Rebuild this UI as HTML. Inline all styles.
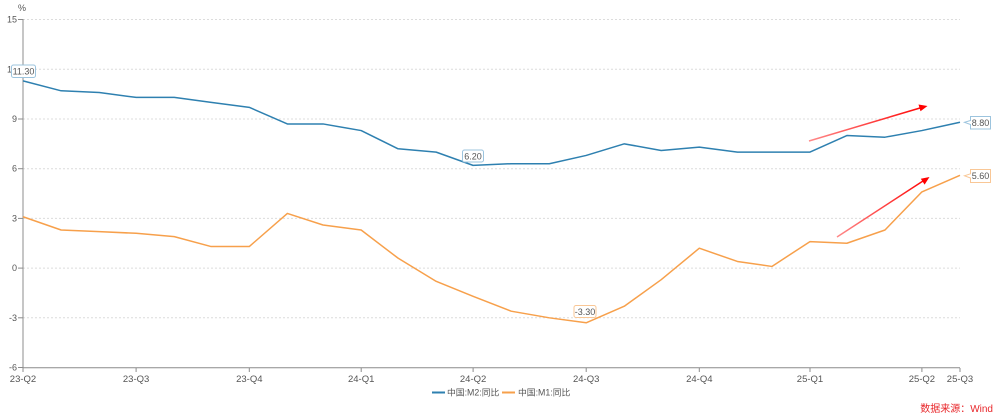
<!DOCTYPE html>
<html><head><meta charset="utf-8">
<style>
html,body{margin:0;padding:0;background:#fff;}
svg{display:block;}
text{font-family:"Liberation Sans","Noto Sans CJK SC",sans-serif;}
</style></head>
<body>
<svg width="1000" height="415" viewBox="0 0 1000 415" xmlns="http://www.w3.org/2000/svg">
<defs>
<linearGradient id="g1" gradientUnits="userSpaceOnUse" x1="809" y1="141" x2="927" y2="106">
<stop offset="0" stop-color="#ff8a8a"/><stop offset="1" stop-color="#ff0000"/>
</linearGradient>
<linearGradient id="g2" gradientUnits="userSpaceOnUse" x1="837" y1="237" x2="929" y2="177">
<stop offset="0" stop-color="#ff8a8a"/><stop offset="1" stop-color="#ff0000"/>
</linearGradient>
</defs>
<!-- grid -->
<g stroke="#dcdcdc" stroke-width="1" stroke-dasharray="2,2">
<line x1="23" y1="19.5" x2="960" y2="19.5"/>
<line x1="23" y1="69.3" x2="960" y2="69.3"/>
<line x1="23" y1="119.0" x2="960" y2="119.0"/>
<line x1="23" y1="168.7" x2="960" y2="168.7"/>
<line x1="23" y1="218.4" x2="960" y2="218.4"/>
<line x1="23" y1="268.1" x2="960" y2="268.1"/>
<line x1="23" y1="317.8" x2="960" y2="317.8"/>
</g>
<!-- axes -->
<line x1="23" y1="19" x2="23" y2="368" stroke="#8c8c8c" stroke-width="1"/>
<line x1="23" y1="367.8" x2="960" y2="367.8" stroke="#8c8c8c" stroke-width="1"/>
<g stroke="#8c8c8c" stroke-width="1">
<line x1="18" y1="19.5" x2="23" y2="19.5"/>
<line x1="18" y1="69.3" x2="23" y2="69.3"/>
<line x1="18" y1="119.0" x2="23" y2="119.0"/>
<line x1="18" y1="168.7" x2="23" y2="168.7"/>
<line x1="18" y1="218.4" x2="23" y2="218.4"/>
<line x1="18" y1="268.1" x2="23" y2="268.1"/>
<line x1="18" y1="317.8" x2="23" y2="317.8"/>
<line x1="18" y1="367.5" x2="23" y2="367.5"/>
<line x1="23" y1="368" x2="23" y2="372"/>
<line x1="136.1" y1="368" x2="136.1" y2="372"/>
<line x1="249.3" y1="368" x2="249.3" y2="372"/>
<line x1="361.2" y1="368" x2="361.2" y2="372"/>
<line x1="473.1" y1="368" x2="473.1" y2="372"/>
<line x1="586.2" y1="368" x2="586.2" y2="372"/>
<line x1="699.3" y1="368" x2="699.3" y2="372"/>
<line x1="810" y1="368" x2="810" y2="372"/>
<line x1="921.9" y1="368" x2="921.9" y2="372"/>
<line x1="960" y1="368" x2="960" y2="372"/>
</g>
<g font-size="9" fill="#555" text-anchor="end">
<text x="17" y="22.5">15</text>
<text x="17" y="72.3">12</text>
<text x="17" y="122">9</text>
<text x="17" y="171.7">6</text>
<text x="17" y="221.4">3</text>
<text x="17" y="271.1">0</text>
<text x="17" y="320.8">-3</text>
<text x="17" y="370.5">-6</text>
</g>
<text x="22" y="11" font-size="9" fill="#555" text-anchor="middle">%</text>
<g font-size="9.5" fill="#555" text-anchor="middle">
<text x="23" y="382">23-Q2</text>
<text x="136.1" y="382">23-Q3</text>
<text x="249.3" y="382">23-Q4</text>
<text x="361.2" y="382">24-Q1</text>
<text x="473.1" y="382">24-Q2</text>
<text x="586.2" y="382">24-Q3</text>
<text x="699.3" y="382">24-Q4</text>
<text x="810" y="382">25-Q1</text>
<text x="921.9" y="382">25-Q2</text>
<text x="960" y="382">25-Q3</text>
</g>
<!-- series -->
<g transform="translate(23,268.1) scale(1.22966,-16.57)">
<polyline fill="none" stroke="#2e80b0" stroke-width="1.5" vector-effect="non-scaling-stroke" stroke-linejoin="round"
points="0,11.3 31,10.7 62,10.6 92,10.3 123,10.3 153,10.0 184,9.7 215,8.7 244,8.7 275,8.3 305,7.2 336,7.0 366,6.2 397,6.3 428,6.3 458,6.8 489,7.5 519,7.1 550,7.3 581,7.0 609,7.0 640,7.0 670,8.0 701,7.9 731,8.3 762,8.8"/>
<polyline fill="none" stroke="#f7a04b" stroke-width="1.5" vector-effect="non-scaling-stroke" stroke-linejoin="round"
points="0,3.1 31,2.3 62,2.2 92,2.1 123,1.9 153,1.3 184,1.3 215,3.3 244,2.6 275,2.3 305,0.6 336,-0.8 366,-1.7 397,-2.6 428,-3.0 458,-3.3 489,-2.3 519,-0.7 550,1.2 581,0.4 609,0.1 640,1.6 670,1.5 701,2.3 731,4.6 762,5.6"/>
</g>
<!-- red arrows -->
<line x1="809" y1="141" x2="920" y2="108" stroke="url(#g1)" stroke-width="1.5"/>
<polygon points="927.5,106 918.5,104.5 920.5,111.2" fill="#ff0000"/>
<line x1="837" y1="237" x2="923" y2="181" stroke="url(#g2)" stroke-width="1.5"/>
<polygon points="929.5,177 920.8,178.8 924.6,184.6" fill="#ff0000"/>
<!-- labels -->
<g font-size="9" fill="#555" text-anchor="middle">
<rect x="11.5" y="65" width="24" height="12.5" rx="2" fill="#fff" stroke="#9cc4de" stroke-width="1"/>
<text x="23.5" y="74.6">11.30</text>
<rect x="462.5" y="150" width="21" height="12" rx="2" fill="#fff" stroke="#9cc4de" stroke-width="1"/>
<text x="473" y="159.3">6.20</text>
<rect x="574" y="305.5" width="22" height="12" rx="2" fill="#fff" stroke="#f9c796" stroke-width="1"/>
<text x="585" y="314.8">-3.30</text>
<path d="M970.5,116.5 H990.5 V129 H970.5 V124.5 L964.5,122.3 L970.5,120.5 Z" fill="#fff" stroke="#9cc4de" stroke-width="1"/>
<text x="980.5" y="125.8">8.80</text>
<path d="M970.5,169.5 H990.5 V182.5 H970.5 V178 L964.5,175.8 L970.5,173.8 Z" fill="#fff" stroke="#f9c796" stroke-width="1"/>
<text x="980.5" y="179">5.60</text>
</g>
<!-- legend -->
<line x1="432" y1="392.5" x2="445" y2="392.5" stroke="#2e80b0" stroke-width="2"/>
<text x="447" y="395.5" font-size="8.8" fill="#555">中国:M2:同比</text>
<line x1="502" y1="392.5" x2="515" y2="392.5" stroke="#f7a04b" stroke-width="2"/>
<text x="518" y="395.5" font-size="8.8" fill="#555">中国:M1:同比</text>
<text x="993" y="412" font-size="10" fill="#e8262a" text-anchor="end">数据来源：Wind</text>
</svg>
</body></html>
